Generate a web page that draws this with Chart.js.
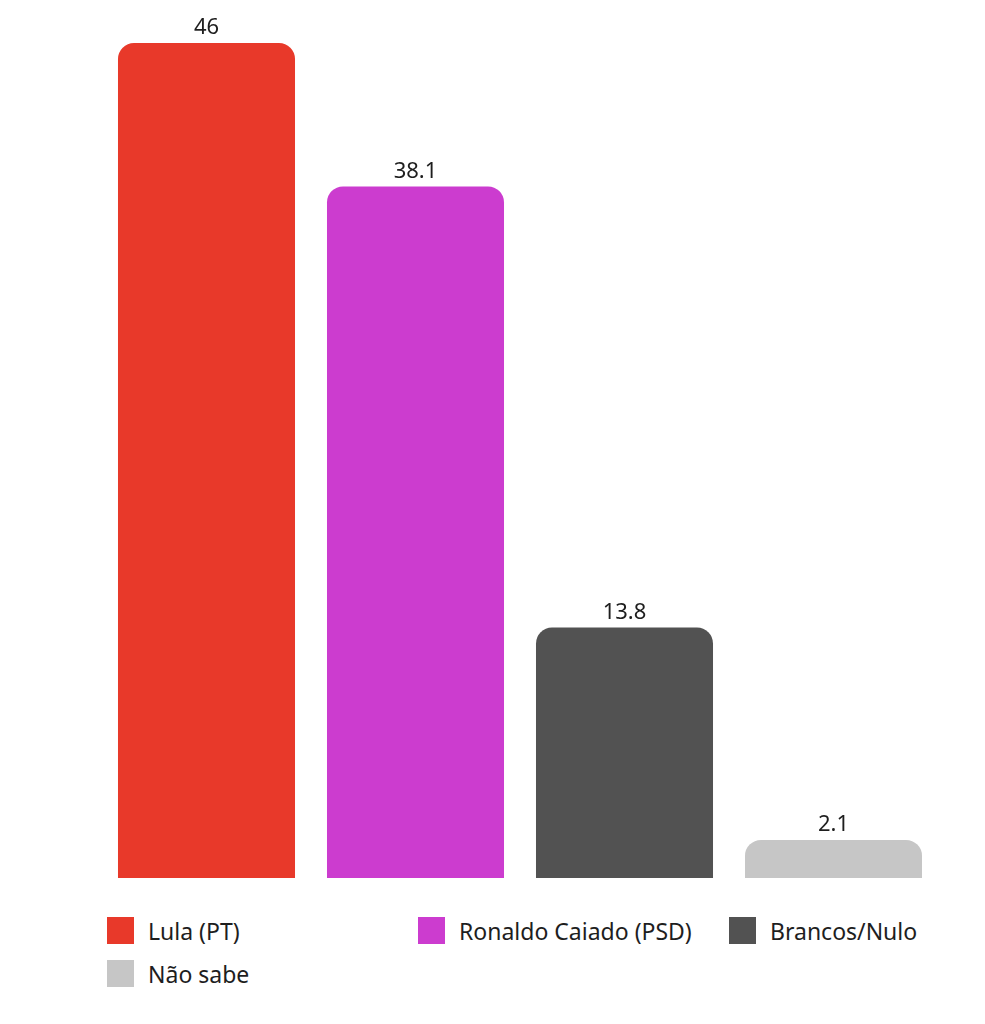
<!DOCTYPE html>
<html>
<head>
<meta charset="utf-8">
<script src="https://cdn.jsdelivr.net/npm/chart.js@4/dist/chart.umd.min.js"></script>
<style>
    html, body { margin: 0; padding: 0; background: #fff; }
    #wrap { position: relative; width: 985px; height: 1024px; }
    #chartBox { position: absolute; left: 0; top: 0; width: 985px; height: 880px; }
    #legend { position: absolute; left: 107px; top: 909px; width: 940px; display: flex; flex-wrap: wrap; font-family: "Noto Sans", sans-serif; font-size: 23px; color: #1e1e1e; }
    .item { display: flex; align-items: center; width: 311px; height: 43px; }
    .box { width: 27px; height: 27px; margin-right: 14px; flex: none; }
</style>
</head>
<body>
<div id="wrap">
    <div id="chartBox"><canvas id="chart"></canvas></div>
    <div id="legend"></div>
</div>
<script>
// dados da pesquisa
const categories = ['Lula (PT)', 'Ronaldo Caiado (PSD)', 'Brancos/Nulo', 'Não sabe'];
const values = [46, 38.1, 13.8, 2.1];
const colors = ['#e8392a', '#cc3ccf', '#525252', '#c6c6c6'];

// rótulos em cima das barras
const valueLabels = {
    id: 'valueLabels',
    afterDatasetsDraw(chart) {
        const ctx = chart.ctx;
        const meta = chart.getDatasetMeta(0);
        ctx.save();
        ctx.font = '22px "Noto Sans", sans-serif';
        ctx.fillStyle = '#1e1e1e';
        ctx.textAlign = 'center';
        ctx.textBaseline = 'bottom';
        meta.data.forEach((bar, i) => {
            ctx.fillText(String(values[i]), bar.x, bar.y - 4);
        });
        ctx.restore();
    }
};

new Chart(document.getElementById('chart'), {
    type: 'bar',
    data: {
        labels: categories,
        datasets: [{
            data: values,
            backgroundColor: colors,
            borderRadius: { topLeft: 16, topRight: 16 },
            borderSkipped: 'bottom',
            categoryPercentage: 1,
            barPercentage: 0.847
        }]
    },
    options: {
        responsive: true,
        maintainAspectRatio: false,
        animation: false,
        layout: { padding: { left: 102, right: 47, top: 43, bottom: 2 } },
        plugins: { legend: { display: false }, tooltip: { enabled: false } },
        scales: {
            x: { display: false },
            y: { display: false, min: 0, max: 46 }
        }
    },
    plugins: [valueLabels]
});

const legend = document.getElementById('legend');
categories.forEach((name, i) => {
    const item = document.createElement('div');
    item.className = 'item';
    item.innerHTML = `<span class="box" style="background:${colors[i]}"></span><span>${name}</span>`;
    legend.appendChild(item);
});
</script>
</body>
</html>
